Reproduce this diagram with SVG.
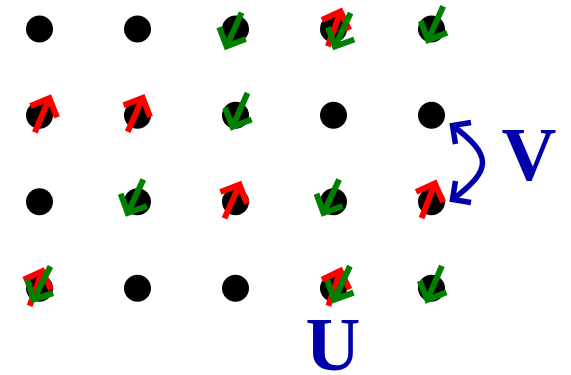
<svg xmlns="http://www.w3.org/2000/svg" xmlns:xlink="http://www.w3.org/1999/xlink" width="571" height="375" viewBox="0 0 571 375">
<style>
.dot{fill:#000}
.red{stroke:#ff0000}
.green{stroke:#008000}
.spin{fill:none;stroke-width:6;stroke-linejoin:miter;stroke-miterlimit:10;stroke-linecap:butt}
.blue{fill:none;stroke:#0000aa;stroke-width:5.5;stroke-linejoin:miter;stroke-miterlimit:10}
.lbl{font-family:"Liberation Serif","Times New Roman",serif;font-weight:bold;font-size:76px;fill:#0000aa}
</style>
<defs>
<g id="arr">
<line x1="0" y1="18.5" x2="0" y2="-18.5"/>
<polyline points="-14.5,-4 0,-18.5 14.5,-4"/>
</g>
</defs>
<rect width="571" height="375" fill="#fff"/>
<g id="sites">
<circle class="dot" cx="39.5" cy="29" r="13.5"/>
<circle class="dot" cx="137.5" cy="29" r="13.5"/>
<circle class="dot" cx="235.5" cy="29" r="13.5"/>
<circle class="dot" cx="333.5" cy="29" r="13.5"/>
<circle class="dot" cx="431.5" cy="29" r="13.5"/>
<circle class="dot" cx="39.5" cy="115.3" r="13.5"/>
<circle class="dot" cx="137.5" cy="115.3" r="13.5"/>
<circle class="dot" cx="235.5" cy="115.3" r="13.5"/>
<circle class="dot" cx="333.5" cy="115.3" r="13.5"/>
<circle class="dot" cx="431.5" cy="115.3" r="13.5"/>
<circle class="dot" cx="39.5" cy="201.7" r="13.5"/>
<circle class="dot" cx="137.5" cy="201.7" r="13.5"/>
<circle class="dot" cx="235.5" cy="201.7" r="13.5"/>
<circle class="dot" cx="333.5" cy="201.7" r="13.5"/>
<circle class="dot" cx="431.5" cy="201.7" r="13.5"/>
<circle class="dot" cx="39.5" cy="288.2" r="13.5"/>
<circle class="dot" cx="137.5" cy="288.2" r="13.5"/>
<circle class="dot" cx="235.5" cy="288.2" r="13.5"/>
<circle class="dot" cx="333.5" cy="288.2" r="13.5"/>
<circle class="dot" cx="431.5" cy="288.2" r="13.5"/>
</g>
<g id="up-spins" class="spin red">
<use xlink:href="#arr" href="#arr" transform="translate(42.1,115.3) rotate(23)"/>
<use xlink:href="#arr" href="#arr" transform="translate(135.2,114.8) rotate(24)"/>
<use xlink:href="#arr" href="#arr" transform="translate(334.2,28.8) rotate(20)"/>
<use xlink:href="#arr" href="#arr" transform="translate(232,201.5) rotate(24)"/>
<use xlink:href="#arr" href="#arr" transform="translate(428.2,200.8) rotate(21)"/>
<use xlink:href="#arr" href="#arr" transform="translate(36,288.5) rotate(20)"/>
<use xlink:href="#arr" href="#arr" transform="translate(334.4,288.3) rotate(19)"/>
</g>
<g id="down-spins" class="spin green">
<use xlink:href="#arr" href="#arr" transform="translate(234.1,29.5) rotate(204)"/>
<use xlink:href="#arr" href="#arr" transform="translate(342.8,29.7) rotate(205)"/>
<use xlink:href="#arr" href="#arr" transform="translate(435.6,23.2) rotate(204)"/>
<use xlink:href="#arr" href="#arr" transform="translate(240,109.9) rotate(204)"/>
<use xlink:href="#arr" href="#arr" transform="translate(135.5,196.2) rotate(205)"/>
<use xlink:href="#arr" href="#arr" transform="translate(331.3,196.2) rotate(205)"/>
<use xlink:href="#arr" href="#arr" transform="translate(42,282.9) rotate(207)"/>
<use xlink:href="#arr" href="#arr" transform="translate(342.1,282.9) rotate(205)"/>
<use xlink:href="#arr" href="#arr" transform="translate(434.6,282.9) rotate(203)"/>
</g>
<g id="connectors">
<path class="blue" d="M452.5,125.5 C492.5,155.5 492.5,169.5 452.5,199.5"/>
<polyline class="blue" points="471,122.5 452.5,125.5 455.5,144"/>
<polyline class="blue" points="471,202.5 452.5,199.5 455.5,181"/>
</g>
<g id="labels">
<text class="lbl" x="501.5" y="179.5">V</text>
<text class="lbl" x="305.5" y="370">U</text>
</g>
</svg>
